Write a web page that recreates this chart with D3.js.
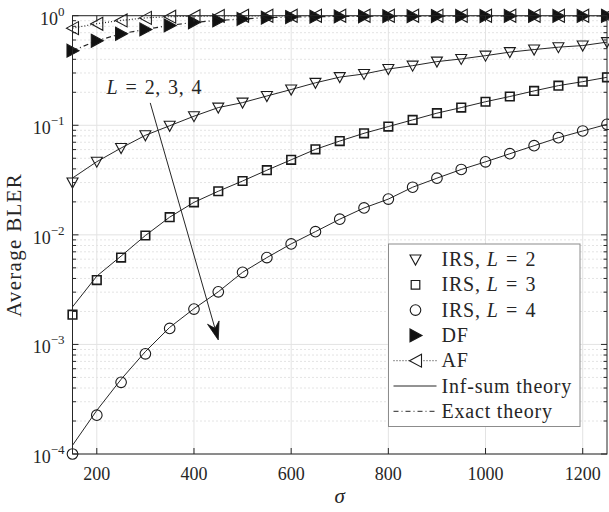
<!DOCTYPE html>
<html>
<head>
<meta charset="utf-8">
<script src="https://cdn.jsdelivr.net/npm/d3@7"></script>
<style>
  body { margin: 0; background: #fff; }
  text { font-family: "Liberation Serif", "Times New Roman", serif; fill: #262626; }
</style>
</head>
<body>
<div id="chart"></div>
<script>
// sigma values of the simulated points
var sigma = [150, 200, 250, 300, 350, 400, 450, 500, 550, 600, 650, 700,
             750, 800, 850, 900, 950, 1000, 1050, 1100, 1150, 1200, 1250];

// simulated BLER (markers)
var irs2 = [0.030, 0.0465, 0.062, 0.081, 0.099, 0.121, 0.145, 0.161, 0.185, 0.212, 0.244, 0.275,
            0.294, 0.326, 0.35, 0.381, 0.403, 0.432, 0.465, 0.491, 0.516, 0.534, 0.574];
var irs3 = [0.00187, 0.00387, 0.0062, 0.00986, 0.0145, 0.0198, 0.025, 0.031, 0.0389, 0.0484, 0.0603, 0.0718,
            0.0845, 0.0973, 0.112, 0.129, 0.145, 0.164, 0.183, 0.206, 0.23, 0.25, 0.274];
var irs4 = [0.0001, 0.000226, 0.000451, 0.00082, 0.0014, 0.0021, 0.00302, 0.00455, 0.0062, 0.00827, 0.0107, 0.0139,
            0.0176, 0.0212, 0.0272, 0.0329, 0.0395, 0.0464, 0.055, 0.0651, 0.077, 0.0887, 0.102];
var df = [0.48, 0.59, 0.685, 0.75, 0.815, 0.87, 0.905, 0.935, 0.96, 0.972, 0.98, 0.985,
          0.988, 0.99, 0.991, 0.992, 0.993, 0.994, 0.995, 0.995, 0.996, 0.996, 0.997];
var af = [0.77, 0.845, 0.906, 0.955, 0.98, 0.99, 0.995, 0.997, 0.998, 0.998, 0.999, 0.999,
          0.999, 0.999, 0.999, 0.999, 0.999, 0.999, 0.999, 0.999, 0.999, 0.999, 0.999];

// theory curves
var infSum2 = [0.033, 0.0465, 0.062, 0.081, 0.099, 0.121, 0.145, 0.161, 0.185, 0.212, 0.244, 0.275,
               0.294, 0.326, 0.35, 0.381, 0.403, 0.432, 0.465, 0.491, 0.516, 0.534, 0.574];
var infSum3 = [0.0022, 0.0042, 0.0064, 0.00986, 0.0145, 0.0198, 0.025, 0.031, 0.0389, 0.0484, 0.0603, 0.0718,
               0.0845, 0.0973, 0.112, 0.129, 0.145, 0.164, 0.183, 0.206, 0.23, 0.25, 0.274];
var infSum4 = [0.00012, 0.00025, 0.00048, 0.00086, 0.00143, 0.00212, 0.00302, 0.00455, 0.0062, 0.00827, 0.0107, 0.0139,
               0.0176, 0.0212, 0.0272, 0.0329, 0.0395, 0.0464, 0.055, 0.0651, 0.077, 0.0887, 0.102];
var exactDF = df;

var xTicks = [200, 400, 600, 800, 1000, 1200];
var yTicks = [1e-4, 1e-3, 1e-2, 1e-1, 1];
var yExps = ["\u22124", "\u22123", "\u22122", "\u22121", "0"];

var eq = "\u2004=\u2004";
var legendItems = [
    {label: ["IRS, ", "L", eq + "2"], marker: "down", line: null},
    {label: ["IRS, ", "L", eq + "3"], marker: "square", line: null},
    {label: ["IRS, ", "L", eq + "4"], marker: "circle", line: null},
    {label: ["DF"], marker: "right", line: null},
    {label: ["AF"], marker: "left", line: "1,2"},
    {label: ["Inf-sum theory"], marker: null, line: "none"},
    {label: ["Exact theory"], marker: null, line: "5,3,1,3"}
];

var width = 609, height = 512;
var margin = {top: 15.7, right: 2, bottom: 58, left: 72.5};

var svg = d3.select("#chart").append("svg")
    .attr("width", width)
    .attr("height", height);

var x = d3.scaleLinear().domain([150, 1250]).range([margin.left, width - margin.right]);
var y = d3.scaleLog().domain([1e-4, 1]).range([height - margin.bottom, margin.top]);

var x0 = x.range()[0], x1 = x.range()[1], y0 = y.range()[0], y1 = y.range()[1];

// minor y values
var minorY = [];
for (var e = -4; e < 0; e++) {
    for (var m = 2; m <= 9; m++) minorY.push(m * Math.pow(10, e));
}

// grid
var grid = svg.append("g");
grid.selectAll(".minor").data(minorY).enter().append("line")
    .attr("x1", x0).attr("x2", x1)
    .attr("y1", function (d) { return y(d); }).attr("y2", function (d) { return y(d); })
    .style("stroke", "#c8c8c8").style("stroke-dasharray", "1,3").style("stroke-width", 1);
grid.selectAll(".majorY").data(yTicks).enter().append("line")
    .attr("x1", x0).attr("x2", x1)
    .attr("y1", function (d) { return y(d); }).attr("y2", function (d) { return y(d); })
    .style("stroke", "#e3e3e3").style("stroke-width", 1);
grid.selectAll(".majorX").data(xTicks).enter().append("line")
    .attr("y1", y0).attr("y2", y1)
    .attr("x1", function (d) { return x(d); }).attr("x2", function (d) { return x(d); })
    .style("stroke", "#e3e3e3").style("stroke-width", 1);

// clip for lines
svg.append("clipPath").attr("id", "clip").append("rect")
    .attr("x", x0).attr("y", y1).attr("width", x1 - x0).attr("height", y0 - y1);

function lineOf(vals) {
    return d3.line()
        .x(function (d, i) { return x(sigma[i]); })
        .y(function (d) { return y(d); })(vals);
}

var lines = svg.append("g").attr("clip-path", "url(#clip)");
[infSum2, infSum3, infSum4].forEach(function (s) {
    lines.append("path").attr("d", lineOf(s))
        .style("fill", "none").style("stroke", "#262626").style("stroke-width", 1);
});
lines.append("path").attr("d", lineOf(exactDF))
    .style("fill", "none").style("stroke", "#262626").style("stroke-width", 1.2)
    .style("stroke-dasharray", "5,3,1,3");
lines.append("path").attr("d", lineOf(af))
    .style("fill", "none").style("stroke", "#262626").style("stroke-width", 1.2)
    .style("stroke-dasharray", "1,2");

// marker shapes
var shapes = {
    down: "M-5.5,-4.5L5.5,-4.5L0,5.5Z",
    right: "M-5.5,-6.5L6.5,0L-5.5,6.5Z",
    left: "M6,-6.5L-6,0L6,6.5Z",
    square: "M-4.3,-4.3H4.3V4.3H-4.3Z",
    circle: d3.symbol().type(d3.symbolCircle).size(Math.PI * 5.3 * 5.3)()
};

function drawMarkers(vals, kind, filled) {
    svg.append("g").selectAll("path").data(vals).enter().append("path")
        .attr("d", shapes[kind])
        .attr("transform", function (d, i) { return "translate(" + x(sigma[i]) + "," + y(d) + ")"; })
        .style("fill", filled ? "#111" : "none")
        .style("stroke", "#1a1a1a")
        .style("stroke-width", kind === "square" ? 1.6 : 1.1);
}
drawMarkers(irs2, "down", false);
drawMarkers(irs3, "square", false);
drawMarkers(irs4, "circle", false);
drawMarkers(df, "right", true);
drawMarkers(af, "left", false);

// axes box
var ax = svg.append("g").style("stroke", "#262626").style("stroke-width", 1);
ax.append("rect").attr("x", x0).attr("y", y1).attr("width", x1 - x0).attr("height", y0 - y1)
    .style("fill", "none");
xTicks.forEach(function (t) {
    ax.append("line").attr("x1", x(t)).attr("x2", x(t)).attr("y1", y0).attr("y2", y0 - 6);
    ax.append("line").attr("x1", x(t)).attr("x2", x(t)).attr("y1", y1).attr("y2", y1 + 6);
});
yTicks.forEach(function (t) {
    ax.append("line").attr("x1", x0).attr("x2", x0 + 6).attr("y1", y(t)).attr("y2", y(t));
    ax.append("line").attr("x1", x1).attr("x2", x1 - 6).attr("y1", y(t)).attr("y2", y(t));
});
minorY.forEach(function (t) {
    ax.append("line").attr("x1", x0).attr("x2", x0 + 3.5).attr("y1", y(t)).attr("y2", y(t));
    ax.append("line").attr("x1", x1).attr("x2", x1 - 3.5).attr("y1", y(t)).attr("y2", y(t));
});

// tick labels
svg.append("g").selectAll("text").data(xTicks).enter().append("text")
    .attr("x", function (d) { return x(d); })
    .attr("y", y0 + 26)
    .attr("text-anchor", "middle")
    .style("font-size", "18px")
    .text(function (d) { return d; });

var yl = svg.append("g").selectAll("text").data(yTicks).enter().append("text")
    .attr("x", x0 - 8)
    .attr("y", function (d) { return y(d) + 9; })
    .attr("text-anchor", "end")
    .style("font-size", "18px");
yl.append("tspan").text("10");
yl.append("tspan").attr("dy", -9).style("font-size", "13px")
    .text(function (d, i) { return yExps[i]; });

// axis labels
svg.append("text")
    .attr("x", (x0 + x1) / 2).attr("y", 503)
    .attr("text-anchor", "middle")
    .style("font-size", "21px").style("font-style", "italic")
    .text("\u03c3");
svg.append("text")
    .attr("transform", "translate(21," + 245 + ") rotate(-90)")
    .attr("text-anchor", "middle")
    .style("font-size", "21px").style("letter-spacing", "1.3px")
    .text("Average BLER");

// annotation arrow
var a0 = [x(310), y(0.16)], a1 = [x(450), y(0.0011)];
var ang = Math.atan2(a1[1] - a0[1], a1[0] - a0[0]);
var hl = 18, hw = 6;
function pt(l, w) {
    return [a1[0] - l * Math.cos(ang) - w * Math.sin(ang), a1[1] - l * Math.sin(ang) + w * Math.cos(ang)];
}
svg.append("line")
    .attr("x1", a0[0]).attr("y1", a0[1])
    .attr("x2", pt(12, 0)[0]).attr("y2", pt(12, 0)[1])
    .style("stroke", "#262626").style("stroke-width", 1);
svg.append("path")
    .attr("d", "M" + a1 + "L" + pt(hl, hw) + "L" + pt(12, 0) + "L" + pt(hl, -hw) + "Z")
    .style("fill", "#111").style("stroke", "#111").style("stroke-width", 0.8);

var ann = svg.append("text")
    .attr("x", x(220)).attr("y", y(0.193))
    .style("font-size", "20px").style("letter-spacing", "0.6px");
ann.append("tspan").style("font-style", "italic").text("L");
ann.append("tspan").text(eq + "2,\u20043,\u20044");

// legend
var lg = svg.append("g");
var lx = 388.5, ly = 244, lw = 191.5, lh = 182.5, rowH = 25.3;
lg.append("rect").attr("x", lx).attr("y", ly).attr("width", lw).attr("height", lh)
    .style("fill", "#fff").style("stroke", "#8c8c8c").style("stroke-width", 1);
legendItems.forEach(function (it, i) {
    var cy = ly + 15.5 + i * rowH;
    if (it.line) {
        lg.append("line").attr("x1", lx + 5).attr("x2", lx + 48).attr("y1", cy).attr("y2", cy)
            .style("stroke", "#262626").style("stroke-width", 1)
            .style("stroke-dasharray", it.line === "none" ? null : it.line);
    }
    if (it.marker) {
        lg.append("path").attr("d", shapes[it.marker])
            .attr("transform", "translate(" + (lx + 27) + "," + cy + ")")
            .style("fill", it.marker === "right" ? "#111" : (it.line ? "#fff" : "none"))
            .style("stroke", "#1a1a1a").style("stroke-width", it.marker === "square" ? 1.2 : 1.1);
    }
    var t = lg.append("text").attr("x", lx + 53).attr("y", cy + 6.5)
        .style("font-size", "20px").style("letter-spacing", "0.8px");
    it.label.forEach(function (s, k) {
        t.append("tspan").style("font-style", s === "L" ? "italic" : null).text(s);
    });
});
</script>
</body>
</html>
